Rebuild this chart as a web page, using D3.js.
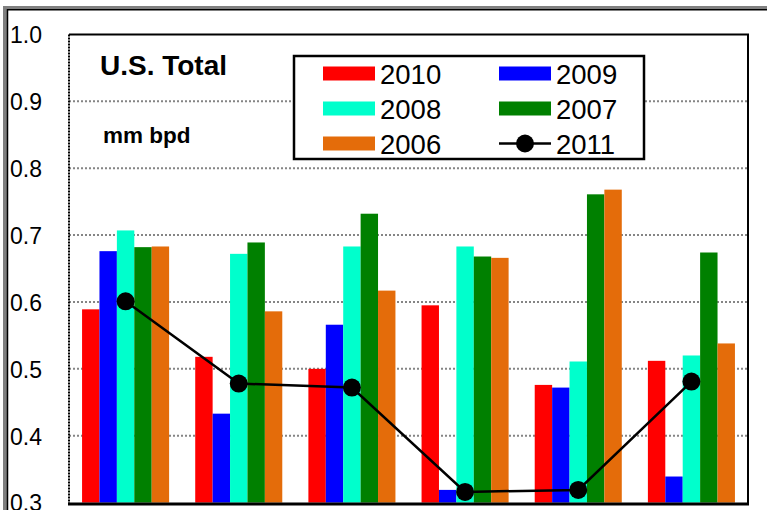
<!DOCTYPE html>
<html>
<head>
<meta charset="utf-8">
<script src="https://cdn.jsdelivr.net/npm/d3@7"></script>
<style>
  html, body { margin: 0; padding: 0; background: #fff; }
  svg { display: block; font-family: "Liberation Sans", Arial, sans-serif; }
</style>
</head>
<body>
<svg id="chart" width="767" height="510"></svg>
<script>
// Monthly groups (six periods) and yearly series, mm bpd
const categories = ["1", "2", "3", "4", "5", "6"];
const barSeries = ["2010", "2009", "2008", "2007", "2006"];
const values2010 = [0.589, 0.518, 0.500, 0.595, 0.476, 0.512];
const values2009 = [0.676, 0.433, 0.566, 0.319, 0.472, 0.339];
const values2008 = [0.707, 0.672, 0.683, 0.683, 0.511, 0.520];
const values2007 = [0.682, 0.689, 0.732, 0.668, 0.761, 0.674];
const values2006 = [0.683, 0.586, 0.617, 0.666, 0.768, 0.538];
const values2011 = [0.601, 0.478, 0.472, 0.316, 0.319, 0.481];
const yTicks = [0.3, 0.4, 0.5, 0.6, 0.7, 0.8, 0.9, 1.0];
const gridTicks = [0.4, 0.5, 0.6, 0.7, 0.8, 0.9];

const barValues = {
  "2010": values2010, "2009": values2009, "2008": values2008,
  "2007": values2007, "2006": values2006
};
const colors = {
  "2010": "#ff0000", "2009": "#0000ff", "2008": "#00ffcc",
  "2007": "#008000", "2006": "#e46c0a"
};

const svg = d3.select("#chart");
const plot = { left: 69, right: 748, top: 34.5, bottom: 502.6 };

// Outer frame: grey band with a thin black inner line
svg.append("rect").attr("x", 3).attr("y", 6).attr("width", 4).attr("height", 510).attr("fill", "#808080");
svg.append("rect").attr("x", 3).attr("y", 6).attr("width", 770).attr("height", 3).attr("fill", "#808080");
svg.append("line").attr("x1", 7.5).attr("x2", 7.5).attr("y1", 9).attr("y2", 510).attr("stroke", "#000").attr("stroke-width", 1.5);
svg.append("line").attr("x1", 7).attr("x2", 767).attr("y1", 9.8).attr("y2", 9.8).attr("stroke", "#000").attr("stroke-width", 1.5);

const y = d3.scaleLinear().domain([0.3, 1.0]).range([plot.bottom, plot.top]);
const x0 = d3.scaleBand().domain(categories).range([plot.left, plot.right]).padding(0);
const x1 = d3.scaleBand().domain(barSeries).range([0, x0.bandwidth()])
  .paddingInner(0).paddingOuter(0.75);

// Gridlines
svg.append("g").selectAll("line").data(gridTicks).join("line")
  .attr("x1", plot.left).attr("x2", plot.right)
  .attr("y1", d => y(d)).attr("y2", d => y(d))
  .attr("stroke", "#858585").attr("stroke-width", 2)
  .attr("stroke-dasharray", "2,2");

// Bars
const groups = svg.append("g").selectAll("g").data(categories).join("g")
  .attr("transform", d => `translate(${x0(d)},0)`);
groups.selectAll("rect")
  .data((c, i) => barSeries.map(s => ({ s, v: barValues[s][i] })))
  .join("rect")
  .attr("x", d => x1(d.s))
  .attr("width", x1.bandwidth())
  .attr("y", d => y(d.v))
  .attr("height", d => y(0.3) - y(d.v))
  .attr("fill", d => colors[d.s]);

// Plot borders
svg.append("line").attr("x1", plot.left).attr("x2", plot.right + 1).attr("y1", plot.top).attr("y2", plot.top)
  .attr("stroke", "#000").attr("stroke-width", 2);
svg.append("line").attr("x1", plot.right).attr("x2", plot.right).attr("y1", plot.top).attr("y2", plot.bottom + 2)
  .attr("stroke", "#000").attr("stroke-width", 2);
svg.append("line").attr("x1", plot.left).attr("x2", plot.left).attr("y1", plot.top).attr("y2", plot.bottom + 2)
  .attr("stroke", "#000").attr("stroke-width", 2).attr("stroke-dasharray", "2,1");
svg.append("line").attr("x1", plot.left - 1).attr("x2", plot.right + 1).attr("y1", plot.bottom + 1.5).attr("y2", plot.bottom + 1.5)
  .attr("stroke", "#000").attr("stroke-width", 3);

// 2011 line with markers
const cx = c => x0(c) + x0.bandwidth() / 2;
const line = d3.line().x((d, i) => cx(categories[i])).y(d => y(d));
svg.append("path").datum(values2011).attr("d", line)
  .attr("fill", "none").attr("stroke", "#000").attr("stroke-width", 2.5);
svg.append("g").selectAll("circle").data(values2011).join("circle")
  .attr("cx", (d, i) => cx(categories[i])).attr("cy", d => y(d)).attr("r", 9).attr("fill", "#000");

// Y axis labels
const yAxis = d3.axisLeft(y).tickValues(yTicks).tickFormat(d3.format(".1f")).tickSize(0);
const ag = svg.append("g").attr("transform", "translate(10,0)").call(yAxis);
ag.select(".domain").remove();
ag.selectAll("text").attr("x", 0).attr("dy", "0.36em").attr("text-anchor", "start")
  .attr("font-size", 23).attr("font-family", "Liberation Sans, Arial, sans-serif").attr("fill", "#000");

// Titles
svg.append("text").attr("x", 100).attr("y", 75).attr("font-size", 28).attr("font-weight", "bold").text("U.S. Total");
svg.append("text").attr("x", 103).attr("y", 143).attr("font-size", 22.5).attr("font-weight", "bold").text("mm bpd");

// Legend
const legend = svg.append("g");
legend.append("rect").attr("x", 294).attr("y", 56).attr("width", 350).attr("height", 103)
  .attr("fill", "#fff").attr("stroke", "#000").attr("stroke-width", 2.5);
const legendItems = [
  { key: "2010", col: 0, row: 0 }, { key: "2009", col: 1, row: 0 },
  { key: "2008", col: 0, row: 1 }, { key: "2007", col: 1, row: 1 },
  { key: "2006", col: 0, row: 2 }, { key: "2011", col: 1, row: 2 }
];
const colX = [323, 499], rowY = [73.5, 108.5, 143.5];
legendItems.forEach(it => {
  const lx = colX[it.col], ly = rowY[it.row];
  if (it.key === "2011") {
    legend.append("line").attr("x1", lx).attr("x2", lx + 52).attr("y1", ly).attr("y2", ly)
      .attr("stroke", "#000").attr("stroke-width", 2.5);
    legend.append("circle").attr("cx", lx + 26).attr("cy", ly).attr("r", 9).attr("fill", "#000");
  } else {
    legend.append("rect").attr("x", lx).attr("y", ly - 7).attr("width", 52).attr("height", 14)
      .attr("fill", colors[it.key]);
  }
  legend.append("text").attr("x", lx + 57).attr("y", ly + 10).attr("font-size", 27.5).text(it.key);
});
</script>
</body>
</html>
